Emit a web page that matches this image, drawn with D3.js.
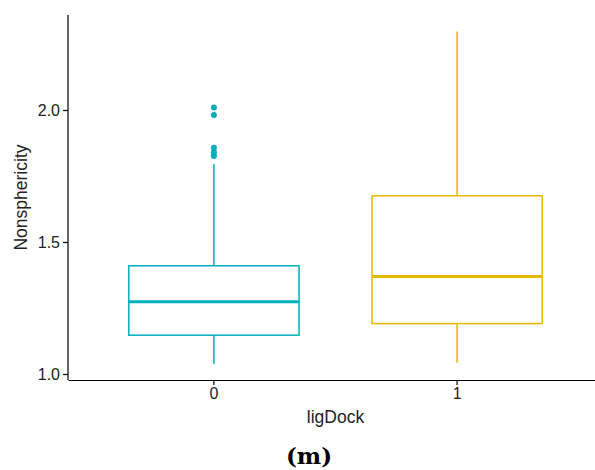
<!doctype html>
<html>
<head>
<script src="https://d3js.org/d3.v7.min.js"></script>
<style>
  body { margin: 0; background: #fff; }
  text { font-family: "Liberation Sans", Arial, sans-serif; }
</style>
</head>
<body>
<svg width="595" height="470" id="chart"></svg>
<script>
// groups and their box statistics
var groups   = ["0", "1"];
var colors   = ["#00AFBB", "#E7B800"];
var whiskLo  = [1.038, 1.043];
var q1       = [1.147, 1.191];
var medians  = [1.274, 1.369];
var q3       = [1.410, 1.675];
var whiskHi  = [1.795, 2.297];
var outliers = [[2.009, 1.981, 1.857, 1.840, 1.826], []];
var yTicks   = [1.0, 1.5, 2.0];

var svg = d3.select("#chart");

// panel edges
var pLeft = 68, pRight = 603, pTop = 15, pBottom = 380;

var yScale = d3.scaleLinear().domain([1.0, 2.0]).range([374, 110]);
var xScale = d3.scaleBand().domain(groups).range([pLeft, pRight]).paddingOuter(0.1).paddingInner(0);
var boxW = xScale.step() * 0.7;
function cx(g) { return xScale(g) + xScale.bandwidth() / 2; }

var stats = groups.map(function (g, i) {
  return { g: g, color: colors[i], lo: whiskLo[i], q1: q1[i], med: medians[i], q3: q3[i], hi: whiskHi[i], out: outliers[i] };
});

var boxes = svg.append("g").selectAll("g").data(stats).enter().append("g");

// whiskers
boxes.append("line")
  .attr("x1", function (d) { return cx(d.g); })
  .attr("x2", function (d) { return cx(d.g); })
  .attr("y1", function (d) { return yScale(d.hi); })
  .attr("y2", function (d) { return yScale(d.q3); })
  .attr("stroke", function (d) { return d.color; })
  .attr("stroke-width", 1.5);
boxes.append("line")
  .attr("x1", function (d) { return cx(d.g); })
  .attr("x2", function (d) { return cx(d.g); })
  .attr("y1", function (d) { return yScale(d.q1); })
  .attr("y2", function (d) { return yScale(d.lo); })
  .attr("stroke", function (d) { return d.color; })
  .attr("stroke-width", 1.5);

// box
boxes.append("rect")
  .attr("x", function (d) { return cx(d.g) - boxW / 2; })
  .attr("y", function (d) { return yScale(d.q3); })
  .attr("width", boxW)
  .attr("height", function (d) { return yScale(d.q1) - yScale(d.q3); })
  .attr("fill", "#fff")
  .attr("stroke", function (d) { return d.color; })
  .attr("stroke-width", 1.5);

// median
boxes.append("line")
  .attr("x1", function (d) { return cx(d.g) - boxW / 2; })
  .attr("x2", function (d) { return cx(d.g) + boxW / 2; })
  .attr("y1", function (d) { return yScale(d.med); })
  .attr("y2", function (d) { return yScale(d.med); })
  .attr("stroke", function (d) { return d.color; })
  .attr("stroke-width", 3);

// outliers
boxes.selectAll("circle")
  .data(function (d) { return d.out.map(function (v) { return { v: v, g: d.g, color: d.color }; }); })
  .enter().append("circle")
  .attr("cx", function (d) { return cx(d.g); })
  .attr("cy", function (d) { return yScale(d.v); })
  .attr("r", 3)
  .attr("fill", function (d) { return d.color; });

// axes
var yAxis = svg.append("g")
  .attr("transform", "translate(" + pLeft + ",0)")
  .call(d3.axisLeft(yScale).tickValues(yTicks).tickFormat(d3.format(".1f")).tickSizeInner(5).tickSizeOuter(0).tickPadding(3));
yAxis.select(".domain").attr("d", "M0," + pTop + "V" + pBottom);

var xAxis = svg.append("g")
  .attr("transform", "translate(0," + pBottom + ")")
  .call(d3.axisBottom(xScale).tickSizeInner(5).tickSizeOuter(0).tickPadding(3));

svg.selectAll(".tick text").style("font-size", "16px").attr("fill", "#222");
svg.selectAll(".domain, .tick line").attr("stroke", "#000").attr("stroke-width", 1.2);

// labels
svg.append("text")
  .attr("x", (pLeft + pRight) / 2)
  .attr("y", 423)
  .attr("text-anchor", "middle")
  .style("font-size", "17.5px")
  .attr("fill", "#222")
  .text("ligDock");

svg.append("text")
  .attr("transform", "translate(27," + ((pTop + pBottom) / 2) + ")rotate(-90)")
  .attr("text-anchor", "middle")
  .style("font-size", "17.5px")
  .attr("fill", "#222")
  .text("Nonsphericity");

svg.append("text")
  .attr("x", 309)
  .attr("y", 464)
  .attr("text-anchor", "middle")
  .style("font-family", "'DejaVu Serif', 'Liberation Serif', serif")
  .style("font-weight", "bold")
  .style("font-size", "23px")
  .text("(m)");
</script>
</body>
</html>
